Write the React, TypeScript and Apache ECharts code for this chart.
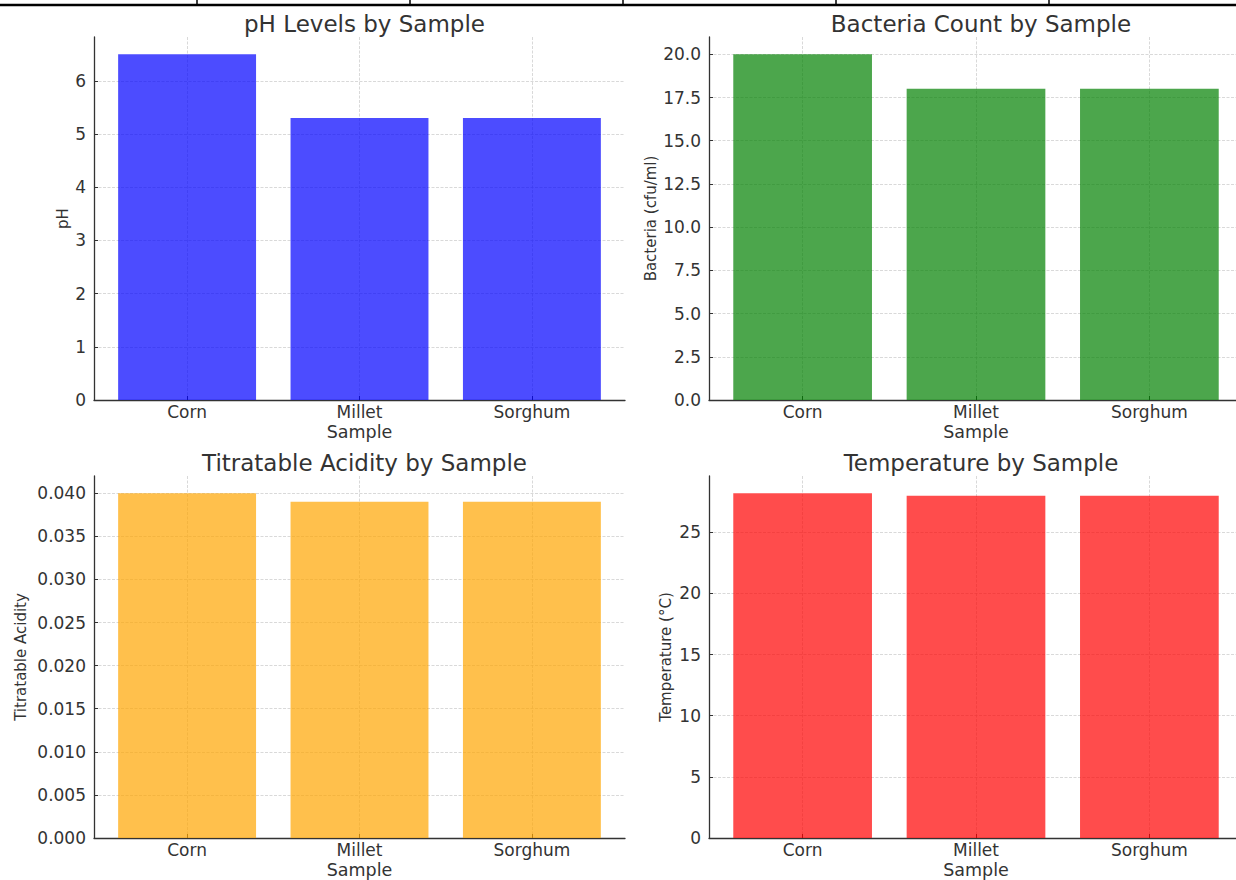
import React, { useEffect, useRef } from "react";
import * as echarts from "echarts";

const categories = ["Corn", "Millet", "Sorghum"];
const phValues = [6.5, 5.3, 5.3];
const bacteriaValues = [20, 18, 18];
const acidityValues = [0.04, 0.039, 0.039];
const temperatureValues = [28.2, 28.0, 28.0];

const phTicks = [0, 1, 2, 3, 4, 5, 6];
const phTickLabels = ["0", "1", "2", "3", "4", "5", "6"];
const bacteriaTicks = [0, 2.5, 5, 7.5, 10, 12.5, 15, 17.5, 20];
const bacteriaTickLabels = ["0.0", "2.5", "5.0", "7.5", "10.0", "12.5", "15.0", "17.5", "20.0"];
const acidityTicks = [0, 0.005, 0.01, 0.015, 0.02, 0.025, 0.03, 0.035, 0.04];
const acidityTickLabels = ["0.000", "0.005", "0.010", "0.015", "0.020", "0.025", "0.030", "0.035", "0.040"];
const temperatureTicks = [0, 5, 10, 15, 20, 25];
const temperatureTickLabels = ["0", "5", "10", "15", "20", "25"];

const FONT = "DejaVu Sans";
const TEXT = "#333333";
const GRID_LINE = "#cfcfcf";

const X_MIN = -0.54;
const X_MAX = 2.54;

interface Panel {
  title: string;
  yName: string;
  values: number[];
  ticks: number[];
  tickLabels: string[];
  color: string;
  left: number;
  top: number;
  width: number;
  height: number;
  nameGap: number;
}

const panels: Panel[] = [
  { title: "pH Levels by Sample", yName: "pH", values: phValues, ticks: phTicks, tickLabels: phTickLabels, color: "rgba(0,0,255,0.7)", left: 94, top: 37, width: 531, height: 363, nameGap: 24 },
  { title: "Bacteria Count by Sample", yName: "Bacteria (cfu/ml)", values: bacteriaValues, ticks: bacteriaTicks, tickLabels: bacteriaTickLabels, color: "rgba(0,128,0,0.7)", left: 709, top: 37, width: 534, height: 363, nameGap: 51 },
  { title: "Titratable Acidity by Sample", yName: "Titratable Acidity", values: acidityValues, ticks: acidityTicks, tickLabels: acidityTickLabels, color: "rgba(255,165,0,0.7)", left: 94, top: 476, width: 531, height: 363, nameGap: 66 },
  { title: "Temperature by Sample", yName: "Temperature (°C)", values: temperatureValues, ticks: temperatureTicks, tickLabels: temperatureTickLabels, color: "rgba(255,0,0,0.7)", left: 709, top: 476, width: 534, height: 363, nameGap: 36 },
];

export default function App() {
  const ref = useRef<HTMLDivElement>(null);

  useEffect(() => {
    if (!ref.current) return;
    const chart = echarts.init(ref.current, null, { renderer: "svg" });
    const catIdx = categories.map((_, i) => i);

    const option: any = {
      animation: false,
      backgroundColor: "#ffffff",
      title: panels.map((p) => ({
        text: p.title,
        left: p.left + p.width / 2,
        top: p.top - 30,
        textAlign: "center",
        textStyle: { fontFamily: FONT, fontSize: 23, fontWeight: "normal", color: TEXT },
      })),
      grid: panels.map((p) => ({ left: p.left, top: p.top, width: p.width, height: p.height, containLabel: false })),
      xAxis: panels.map((p, i) => ({
        type: "value",
        gridIndex: i,
        min: X_MIN,
        max: X_MAX,
        name: "Sample",
        nameLocation: "middle",
        nameGap: 23,
        nameTextStyle: { fontFamily: FONT, fontSize: 17.5, color: TEXT },
        axisLine: { show: true, onZero: false, lineStyle: { color: TEXT, width: 1.3 } },
        axisTick: { show: true, inside: true, length: 4, customValues: catIdx, lineStyle: { color: TEXT } },
        axisLabel: {
          customValues: catIdx,
          margin: 3,
          fontFamily: FONT,
          fontSize: 17,
          color: TEXT,
          formatter: (v: number) => categories[Math.round(v)] ?? "",
        },
        splitLine: { show: true, lineStyle: { color: GRID_LINE, width: 0.8, type: [3, 1.5] } },
      })),
      yAxis: panels.map((p, i) => ({
        type: "value",
        gridIndex: i,
        min: 0,
        max: Math.max(...p.values) * 1.05,
        name: p.yName,
        nameLocation: "middle",
        nameGap: p.nameGap,
        nameRotate: 90,
        nameTextStyle: { fontFamily: FONT, fontSize: 15, color: TEXT },
        axisLine: { show: true, onZero: false, lineStyle: { color: TEXT, width: 1.3 } },
        axisTick: { show: true, inside: true, length: 4, customValues: p.ticks, lineStyle: { color: TEXT } },
        axisLabel: {
          customValues: p.ticks,
          margin: 8,
          fontFamily: FONT,
          fontSize: 17,
          color: TEXT,
          formatter: (v: number) => {
            const k = p.ticks.findIndex((t) => Math.abs(t - v) < 1e-9);
            return k >= 0 ? p.tickLabels[k] : "";
          },
        },
        splitLine: { show: true, lineStyle: { color: GRID_LINE, width: 0.8, type: [3, 1.5] } },
      })),
      series: panels.map((p, i) => ({
        type: "bar",
        xAxisIndex: i,
        yAxisIndex: i,
        barWidth: (p.width / (X_MAX - X_MIN)) * 0.8,
        itemStyle: { color: p.color },
        data: p.values.map((v, k) => [k, v]),
      })),
      graphic: [
        { type: "line", shape: { x1: 0, y1: 5, x2: 1236, y2: 5 }, style: { stroke: "#000", lineWidth: 2.5 } },
        ...[197, 410, 623, 836, 1049].map((x) => ({
          type: "line",
          shape: { x1: x, y1: 0, x2: x, y2: 5 },
          style: { stroke: "#000", lineWidth: 1.5 },
        })),
      ],
    };

    chart.setOption(option);
    return () => chart.dispose();
  }, []);

  return (
    <div style={{ position: "fixed", left: 0, top: 0, width: 1236, height: 880, overflow: "hidden", background: "#fff" }}>
      <div ref={ref} style={{ width: 1260, height: 880 }} />
    </div>
  );
}
